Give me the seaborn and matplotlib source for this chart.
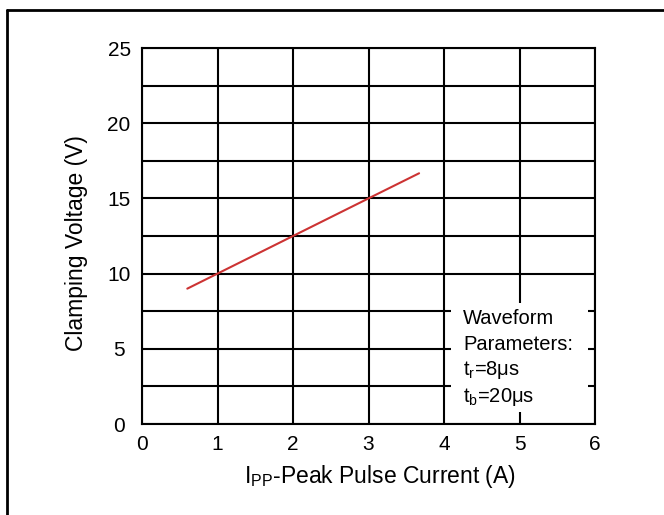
import pandas as pd
import seaborn as sns
import matplotlib.pyplot as plt
from matplotlib.lines import Line2D
from matplotlib.patches import Rectangle

# Datos
corriente = [0.6, 1.0, 2.0, 3.0, 3.67]
voltaje = [9.0, 10.0, 12.5, 15.0, 16.67]
x_ticks = [0, 1, 2, 3, 4, 5, 6]
y_ticks = [0, 5, 10, 15, 20, 25]
y_grid = [0, 2.5, 5, 7.5, 10, 12.5, 15, 17.5, 20, 22.5, 25]

df = pd.DataFrame({'Ipp': corriente, 'Vc': voltaje})

sns.set_theme(style="white")
plt.rcParams['font.family'] = ['Liberation Sans', 'DejaVu Sans']
plt.rcParams['mathtext.fontset'] = 'custom'
plt.rcParams['mathtext.rm'] = 'Liberation Sans'
for k in ['text.color', 'axes.labelcolor', 'xtick.color', 'ytick.color']:
    plt.rcParams[k] = 'black'

fig = plt.figure(figsize=(6.64, 5.15), dpi=100)
ax = fig.add_axes([142 / 664, 1 - 424 / 515, 453 / 664, 376 / 515])

# rejilla
for gx in x_ticks:
    ax.axvline(gx, color='black', lw=1.5, zorder=1)
for gy in y_grid:
    ax.axhline(gy, color='black', lw=1.5, zorder=1)

sns.lineplot(data=df, x='Ipp', y='Vc', color='#cc3333', lw=1.5, ax=ax, zorder=3)

ax.set_xlim(0, 6)
ax.set_ylim(0, 25)
ax.set_xticks(x_ticks)
ax.set_yticks(y_ticks)
ax.tick_params(labelsize=15, length=0)
ax.tick_params(axis='x', pad=8)
ax.tick_params(axis='y', pad=16.5)
for lab in ax.get_yticklabels():
    lab.set_ha('center')
for s in ax.spines.values():
    s.set_color('black')
    s.set_linewidth(1.5)
    s.set_zorder(4)

ax.set_xlabel(r'$\mathregular{I_{PP}}$-Peak Pulse Current (A)', fontsize=16.5)
ax.xaxis.set_label_coords(0.525, (424 - 483) / 376)
ax.xaxis.label.set_va('baseline')
ax.set_ylabel('Clamping Voltage (V)', fontsize=16.5)
ax.yaxis.set_label_coords((88 - 142) / 453, (424 - 243) / 376)

# cuadro de parámetros
ax.add_patch(Rectangle((4.09, 0.8), 1.82, 7.25, facecolor='white', edgecolor='none', zorder=2))
ax.text(4.257, 6.63, 'Waveform', fontsize=14.5, va='baseline', zorder=5)
ax.text(4.257, 4.92, 'Parameters:', fontsize=14.5, va='baseline', zorder=5)
ax.text(4.257, 3.26, r'$\mathregular{t_r}$=8μs', fontsize=14.5, va='baseline', zorder=5)
ax.text(4.257, 1.48, r'$\mathregular{t_b}$=20μs', fontsize=14.5, va='baseline', zorder=5)

# marco de la figura
fig.add_artist(Line2D([7 / 664, 7 / 664], [0, 1 - 10 / 515], color='black', lw=2, transform=fig.transFigure))
fig.add_artist(Line2D([7 / 664, 1], [1 - 10 / 515, 1 - 10 / 515], color='black', lw=2, transform=fig.transFigure))

plt.savefig('out.png', dpi=100)
